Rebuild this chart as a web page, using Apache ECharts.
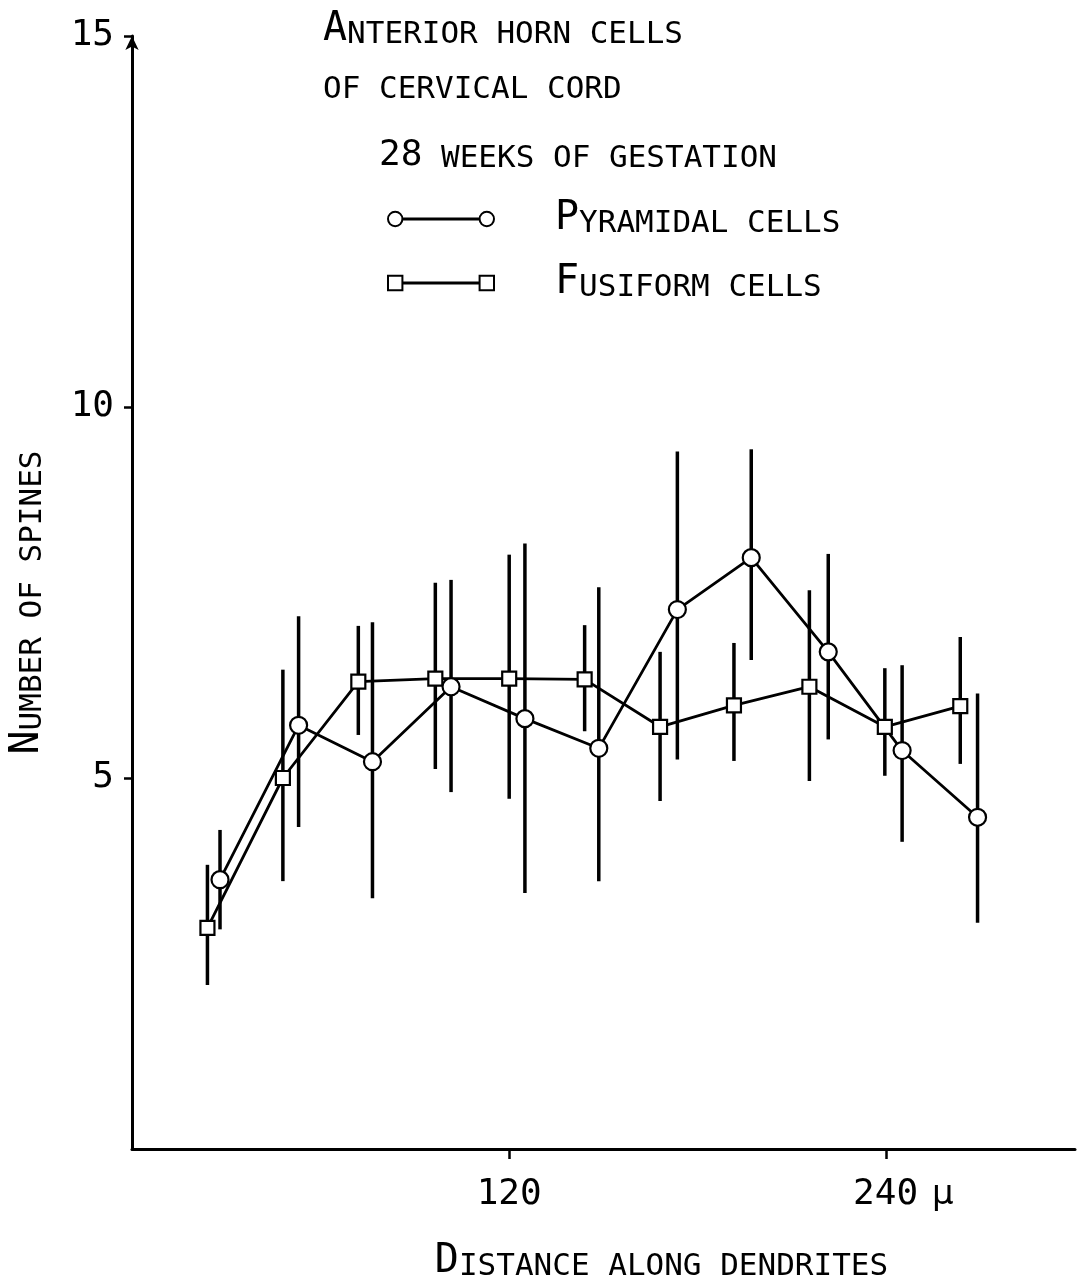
<!DOCTYPE html>
<html>
<head>
<meta charset="utf-8">
<script src="https://cdn.jsdelivr.net/npm/echarts@6/dist/echarts.min.js"></script>
<style>
  html, body { margin: 0; padding: 0; background: #fff; }
  #chart { width: 1085px; height: 1287px; }
</style>
</head>
<body>
<div id="chart"></div>
<script>
// 棘突數沿樹突距離分布：兩種細胞，各點帶上下誤差線
const squareX = [24, 48, 72, 96.5, 120, 144, 168, 191.5, 215.5, 239.5, 263.5]
const squareY = [2.98, 5.00, 6.30, 6.34, 6.34, 6.33, 5.69, 5.98, 6.23, 5.69, 5.97]
const squareLow = [2.21, 3.61, 5.58, 5.12, 4.72, 5.63, 4.69, 5.23, 4.96, 5.03, 5.19]
const squareHigh = [3.83, 6.46, 7.05, 7.63, 8.01, 7.06, 6.70, 6.82, 7.53, 6.48, 6.90]

const circleX = [28, 53, 76.5, 101.5, 125, 148.5, 173.5, 197, 221.5, 245, 269]
const circleY = [3.63, 5.71, 5.22, 6.23, 5.80, 5.40, 7.27, 7.97, 6.70, 5.37, 4.47]
const circleLow = [2.96, 4.34, 3.38, 4.81, 3.45, 3.61, 5.25, 6.59, 5.52, 4.14, 3.05]
const circleHigh = [4.30, 7.18, 7.10, 7.67, 8.16, 7.57, 9.40, 9.43, 8.02, 6.52, 6.14]

const xTicks = [120, 240]
const yTicks = [5, 10, 15]

const FONT = '"DejaVu Sans Mono", monospace'
const INK = '#000'
// 小型大寫字：首字母大、其餘小
const RICH = {
  b: { fontFamily: FONT, fontSize: 40, fontWeight: 'normal', lineHeight: 40, verticalAlign: 'bottom', color: INK },
  d: { fontFamily: FONT, fontSize: 36, fontWeight: 'normal', lineHeight: 36, verticalAlign: 'bottom', color: INK },
  s: { fontFamily: FONT, fontSize: 31, fontWeight: 'normal', lineHeight: 31, verticalAlign: 'bottom', color: INK },
}
// legend 圖示：符號—線—符號
const ICON_CIRCLE = 'path://M1,8 A7,7 0 1,1 15,8 A7,7 0 1,1 1,8 Z M15,7.5 L90,7.5 L90,8.5 L15,8.5 Z M90,8 A7,7 0 1,1 104,8 A7,7 0 1,1 90,8 Z'
const ICON_SQUARE = 'path://M1,1 L15,1 L15,15 L1,15 Z M15,7.5 L90,7.5 L90,8.5 L15,8.5 Z M90,1 L104,1 L104,15 L90,15 Z'

const errRows = (xs, lo, hi) => xs.map((x, i) => [x, lo[i], hi[i]])
const errBar = (params, api) => {
  const a = api.coord([api.value(0), api.value(1)])
  const b = api.coord([api.value(0), api.value(2)])
  return { type: 'line', shape: { x1: a[0], y1: a[1], x2: b[0], y2: b[1] }, style: { stroke: INK, lineWidth: 3.5 } }
}
const mark = { color: '#fff', borderColor: INK, borderWidth: 2.2 }

const chart = echarts.init(document.getElementById('chart'), null, { renderer: 'canvas' })
chart.setOption({
  animation: false,
  backgroundColor: '#fff',
  title: [
    { left: 323, top: 10, padding: 0, text: '{b|A}{s|NTERIOR HORN CELLS}', textStyle: { fontWeight: 'normal', rich: RICH } },
    { left: 323, top: 74, padding: 0, text: '{s|OF CERVICAL CORD}', textStyle: { fontWeight: 'normal', rich: RICH } },
    { left: 379, top: 138, padding: 0, text: '{d|28}{s| WEEKS OF GESTATION}', textStyle: { fontWeight: 'normal', rich: RICH } },
  ],
  legend: {
    orient: 'vertical', left: 387, top: 199, padding: 0, itemGap: 24,
    itemWidth: 106, itemHeight: 16, selectedMode: false,
    data: [
      { name: 'Pyramidal cells', icon: ICON_CIRCLE },
      { name: 'Fusiform cells', icon: ICON_SQUARE },
    ],
    formatter: n => n === 'Pyramidal cells' ? '{b|P}{s|YRAMIDAL CELLS}' : '{b|F}{s|USIFORM CELLS}',
    textStyle: { padding: [0, 0, 0, 56], rich: RICH },
  },
  grid: { left: 127, right: 10, top: 36, bottom: 129 },
  xAxis: {
    type: 'value', min: 0, max: 300,
    name: '{b|D}{s|ISTANCE ALONG DENDRITES}', nameLocation: 'middle', nameGap: 93,
    nameTextStyle: { rich: RICH, padding: [0, 0, 0, 116] },
    axisLine: { show: true, lineStyle: { color: INK, width: 3 } },
    axisTick: { show: true, customValues: xTicks, length: 10, lineStyle: { color: INK, width: 2.5 } },
    axisLabel: {
      customValues: xTicks, margin: 28, color: INK,
      formatter: v => v === 240 ? '{pad| }{n|240}{u|μ}' : '{n|' + v + '}',
      rich: {
        n: { fontFamily: FONT, fontSize: 36, color: INK },
        pad: { width: 34 },
        u: { fontFamily: '"DejaVu Sans"', fontSize: 34, color: INK, padding: [0, 0, 0, 14] },
      },
    },
    splitLine: { show: false },
  },
  yAxis: {
    type: 'value', min: 0, max: 15, interval: 5,
    name: '{b|N}{s|UMBER OF SPINES}', nameLocation: 'middle', nameGap: 84,
    nameTextStyle: { rich: RICH, padding: [0, 20, 0, 0] },
    axisLine: { show: true, symbol: ['none', 'arrow'], symbolSize: [10, 14], lineStyle: { color: INK, width: 3 } },
    axisTick: { show: true, customValues: yTicks, length: 8, lineStyle: { color: INK, width: 2.5 } },
    axisLabel: { customValues: yTicks, margin: 18, color: INK, fontFamily: FONT, fontSize: 36 },
    splitLine: { show: false },
  },
  series: [
    { name: 'err-fusiform', type: 'custom', renderItem: errBar, data: errRows(squareX, squareLow, squareHigh), encode: { x: 0, y: [1, 2] }, z: 1, silent: true },
    { name: 'err-pyramidal', type: 'custom', renderItem: errBar, data: errRows(circleX, circleLow, circleHigh), encode: { x: 0, y: [1, 2] }, z: 1, silent: true },
    {
      name: 'Fusiform cells', type: 'line', symbol: 'rect', symbolSize: 14, z: 3,
      data: squareX.map((x, i) => [x, squareY[i]]),
      lineStyle: { color: INK, width: 2.8 }, itemStyle: mark,
    },
    {
      name: 'Pyramidal cells', type: 'line', symbol: 'circle', symbolSize: 17, z: 3,
      data: circleX.map((x, i) => [x, circleY[i]]),
      lineStyle: { color: INK, width: 2.8 }, itemStyle: mark,
    },
  ],
})
</script>
</body>
</html>
